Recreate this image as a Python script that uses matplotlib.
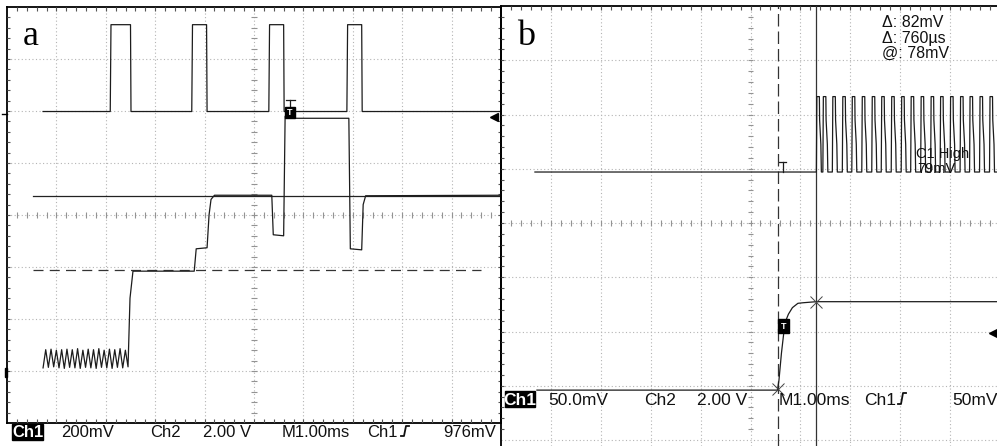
import numpy as np
import matplotlib.pyplot as plt
from matplotlib.patches import Rectangle
from matplotlib.lines import Line2D

plt.rcParams['font.family'] = ['Liberation Sans', 'DejaVu Sans']

W, H = 997, 446
TRACE = '#1c1c1c'

# ---------------- panel a  (time in ms = divisions, level in divisions) ----------------
a_pulse_start = [2.09, 3.74, 5.30, 6.88]
a_pulse_end = [2.51, 4.05, 5.61, 7.19]
a_pulse_low, a_pulse_high = 5.99, 7.66
a_pulse_from, a_pulse_to = 0.73, 10.0

# ripple before the first step (peaks / troughs)
a_ripple = [1.06, 1.41, 1.07, 1.42, 1.08, 1.40, 1.06, 1.41, 1.05, 1.42, 1.07,
            1.41, 1.06, 1.43, 1.05, 1.40, 1.07, 1.42, 1.06, 1.41, 1.05, 1.43,
            1.07, 1.40, 1.06, 1.42, 1.05, 1.41, 1.07, 1.43, 1.06, 1.40, 1.08]
a_ripple_from, a_ripple_to = 0.73, 2.45

a_step_t = [2.45, 2.49, 2.55, 3.79, 3.83, 4.05, 4.09, 4.13, 4.20, 5.36, 5.39,
            5.60, 5.63, 5.68, 6.92, 6.95, 7.18, 7.21, 7.26, 10.0]
a_step_v = [1.08, 2.40, 2.92, 2.92, 3.35, 3.37, 4.00, 4.30, 4.38, 4.38, 3.62,
            3.60, 5.90, 5.86, 5.86, 3.35, 3.33, 4.20, 4.37, 4.38]

a_cursor_solid, a_cursor_dash = 4.37, 2.94
a_cursor_from, a_cursor_dash_to = 0.53, 9.6
a_trig = (5.73, 5.97)

# ---------------- panel b ----------------
b_top_low, b_top_high = 4.94, 6.33
b_top_from = 0.68
b_burst_rise = [6.32, 6.45, 6.64, 6.84, 7.03, 7.23, 7.43, 7.62, 7.82, 8.02,
                8.21, 8.41, 8.61, 8.80, 9.00, 9.20, 9.39, 9.59, 9.79]
b_low_t = [0.72, 5.54, 5.57, 5.62, 5.69, 5.76, 5.84, 5.95, 6.05, 6.32, 9.94]
b_low_v = [0.92, 0.92, 1.10, 1.60, 2.16, 2.32, 2.44, 2.52, 2.53, 2.55, 2.55]
b_cursor_dash, b_cursor_solid = 5.56, 6.32
b_marks_t = [5.56, 6.32]
b_marks_v = [0.94, 2.54]
b_trig = (5.66, 2.10)

bar_a = [('200mV', 61), ('Ch2', 150), ('2.00 V', 203), ('M1.00ms', 282),
         ('Ch1', 367), ('976mV', 443)]
bar_b = [('50.0mV', 548), ('Ch2', 644), ('2.00 V', 697), ('M1.00ms', 779),
         ('Ch1', 864), ('50mV', 952)]
readout_b = ['\u0394: 82mV', '\u0394: 760\u00b5s', '@: 78mV']


def fx(px):
    return px / W


def fy(py):
    return 1 - py / H


def graticule(ax, x_end, bottom_border):
    dots = dict(color='#b4b4b4', lw=0.8, ls=(0, (1, 2.2)), zorder=1)
    for i in range(1, 10):
        ax.axvline(i, **dots)
    for j in range(0 if not bottom_border else 1, 8):
        ax.axhline(j, **dots)
    fine_x = np.arange(0.2, x_end, 0.2)
    fine_y = np.arange(0.2, 8, 0.2)
    ax.vlines(fine_x, 3.94, 4.06, color='#939393', lw=0.8, zorder=1)
    ax.hlines(fine_y, 4.94, 5.06, color='#939393', lw=0.8, zorder=1)
    # frame with inward ticks
    frame = dict(color='black', lw=1.3, clip_on=False, zorder=3)
    ax.plot([0, 0], [0 if bottom_border else ax.get_ylim()[0], 8], **frame)
    ax.plot([0, x_end], [8, 8], **frame)
    ax.hlines(fine_y, 0, 0.07, color='#555555', lw=0.8, zorder=3)
    ax.vlines(fine_x, 7.93, 8, color='#555555', lw=0.8, zorder=3)
    if bottom_border:
        ax.plot([0, x_end], [0, 0], **frame)
        ax.plot([x_end, x_end], [0, 8], **frame)
        ax.vlines(fine_x, 0, 0.07, color='#555555', lw=0.8, zorder=3)
        ax.hlines(fine_y, x_end - 0.07, x_end, color='#555555', lw=0.8, zorder=3)


def trig_box(ax, x, y, w, h):
    ax.add_patch(Rectangle((x - w / 2, y - h / 2), w, h, color='black', zorder=5))
    ax.text(x, y, 'T', color='white', fontsize=6.5, fontweight='bold',
            ha='center', va='center', zorder=6)


fig = plt.figure(figsize=(W / 100, H / 100), dpi=100)
fig.patch.set_facecolor('white')

# ---------------- panel a ----------------
ax_a = fig.add_axes([fx(7), fy(423), (501 - 7) / W, (423 - 7) / H])
ax_a.set_xlim(0, 10)
ax_a.set_ylim(0, 8)
ax_a.set_axis_off()
graticule(ax_a, 10, True)

pt, pv = [a_pulse_from], [a_pulse_low]
for s, e in zip(a_pulse_start, a_pulse_end):
    pt += [s, s + 0.015, e - 0.01, e]
    pv += [a_pulse_low, a_pulse_high, a_pulse_high, a_pulse_low]
pt.append(a_pulse_to)
pv.append(a_pulse_low)
ax_a.plot(pt, pv, color=TRACE, lw=0.9, zorder=4)

rip_t = np.linspace(a_ripple_from, a_ripple_to, len(a_ripple))
ax_a.plot(list(rip_t) + a_step_t[1:], a_ripple + a_step_v[1:], color=TRACE,
          lw=0.9, zorder=4)

ax_a.plot([a_cursor_from, 10], [a_cursor_solid] * 2, color='#222222', lw=0.9, zorder=3)
ax_a.plot([a_cursor_from, a_cursor_dash_to], [a_cursor_dash] * 2, color='#333333',
          lw=0.9, ls=(0, (8, 5)), zorder=3)

trig_box(ax_a, a_trig[0], a_trig[1], 0.2, 0.21)
ax_a.plot([a_trig[0] - 0.09, a_trig[0] + 0.09], [a_trig[1] + 0.24] * 2, color=TRACE, lw=0.9)
ax_a.plot([a_trig[0], a_trig[0]], [a_trig[1] + 0.24, a_trig[1] + 0.1], color=TRACE, lw=0.9)
ax_a.plot([9.86], [5.88], marker='<', color='black', ms=6, clip_on=False, zorder=6)
ax_a.add_patch(Rectangle((-0.05, 0.88), 0.06, 0.18, color='black', clip_on=False, zorder=6))
ax_a.plot([-0.1, 0], [5.95, 5.95], color='black', lw=1, clip_on=False)

# ---------------- panel b ----------------
ax_b = fig.add_axes([fx(501), 0, (W - 501) / W, (446 - 6) / H])
b_xmax = (W - 501) / 49.9
ax_b.set_xlim(0, b_xmax)
ax_b.set_ylim(-0.11, 8)
ax_b.set_axis_off()
graticule(ax_b, b_xmax, False)

bt, bv = [b_top_from], [b_top_low]
for r in b_burst_rise:
    bt += [r, r + 0.01, r + 0.06, r + 0.065, r + 0.09, r + 0.10]
    bv += [b_top_low, b_top_high, b_top_high, 5.9, 5.45, b_top_low]
bt.append(b_xmax)
bv.append(b_top_low)
ax_b.plot(bt, bv, color=TRACE, lw=0.9, zorder=4)
ax_b.plot(b_low_t, b_low_v, color=TRACE, lw=0.9, zorder=4)

ax_b.axvline(b_cursor_dash, color='#333333', lw=0.9, ls=(0, (10, 4)), zorder=3)
ax_b.axvline(b_cursor_solid, color='#333333', lw=0.9, zorder=3)
ax_b.plot(b_marks_t, b_marks_v, ls='none', marker='x', ms=9, mew=0.7,
          color='#444444', zorder=5)
trig_box(ax_b, b_trig[0], b_trig[1], 0.22, 0.26)
ax_b.plot([5.58, 5.72], [5.13, 5.13], color=TRACE, lw=0.9)
ax_b.plot([5.65, 5.65], [5.13, 4.94], color=TRACE, lw=0.9)
ax_b.plot([9.86], [1.97], marker='<', color='black', ms=6, clip_on=False, zorder=6)

# ---------------- text ----------------
fig.text(fx(23), fy(45), 'a', family='Liberation Serif', fontsize=26, va='baseline')
fig.text(fx(517), fy(45), 'b', family='Liberation Serif', fontsize=26, va='baseline')

fig.add_artist(Rectangle((fx(12), fy(440)), 31 / W, 16 / H, color='black',
                         transform=fig.transFigure))
fig.text(fx(27.5), fy(437), 'Ch1', color='white', fontsize=12, fontweight='bold',
         ha='center', va='baseline')
for label, x in bar_a:
    fig.text(fx(x), fy(437), label, fontsize=12, color='#111111', va='baseline')

fig.add_artist(Rectangle((fx(505), fy(407)), 30 / W, 16 / H, color='black',
                         transform=fig.transFigure))
fig.text(fx(520), fy(405), 'Ch1', color='white', fontsize=12.5, fontweight='bold',
         ha='center', va='baseline')
for label, x in bar_b:
    fig.text(fx(x), fy(405), label, fontsize=12.5, color='#111111', va='baseline')

# trigger slope glyphs
for x0, yb, ht in [(401, 436, 10), (898, 404, 11)]:
    fig.add_artist(Line2D([fx(x0), fx(x0 + 3), fx(x0 + 5), fx(x0 + 8)],
                          [fy(yb), fy(yb), fy(yb - ht), fy(yb - ht)],
                          color='#111111', lw=1.3, transform=fig.transFigure))

for i, line in enumerate(readout_b):
    fig.text(fx(882), fy(27 + 15.5 * i), line, fontsize=11.5, color='#111111',
             va='baseline')
fig.text(fx(916), fy(158), 'C1 High', fontsize=10.5, color='#111111', va='baseline')
fig.text(fx(917), fy(173), '79mV', fontsize=10.5, color='#111111', va='baseline')

fig.savefig('out.png', dpi=100)
